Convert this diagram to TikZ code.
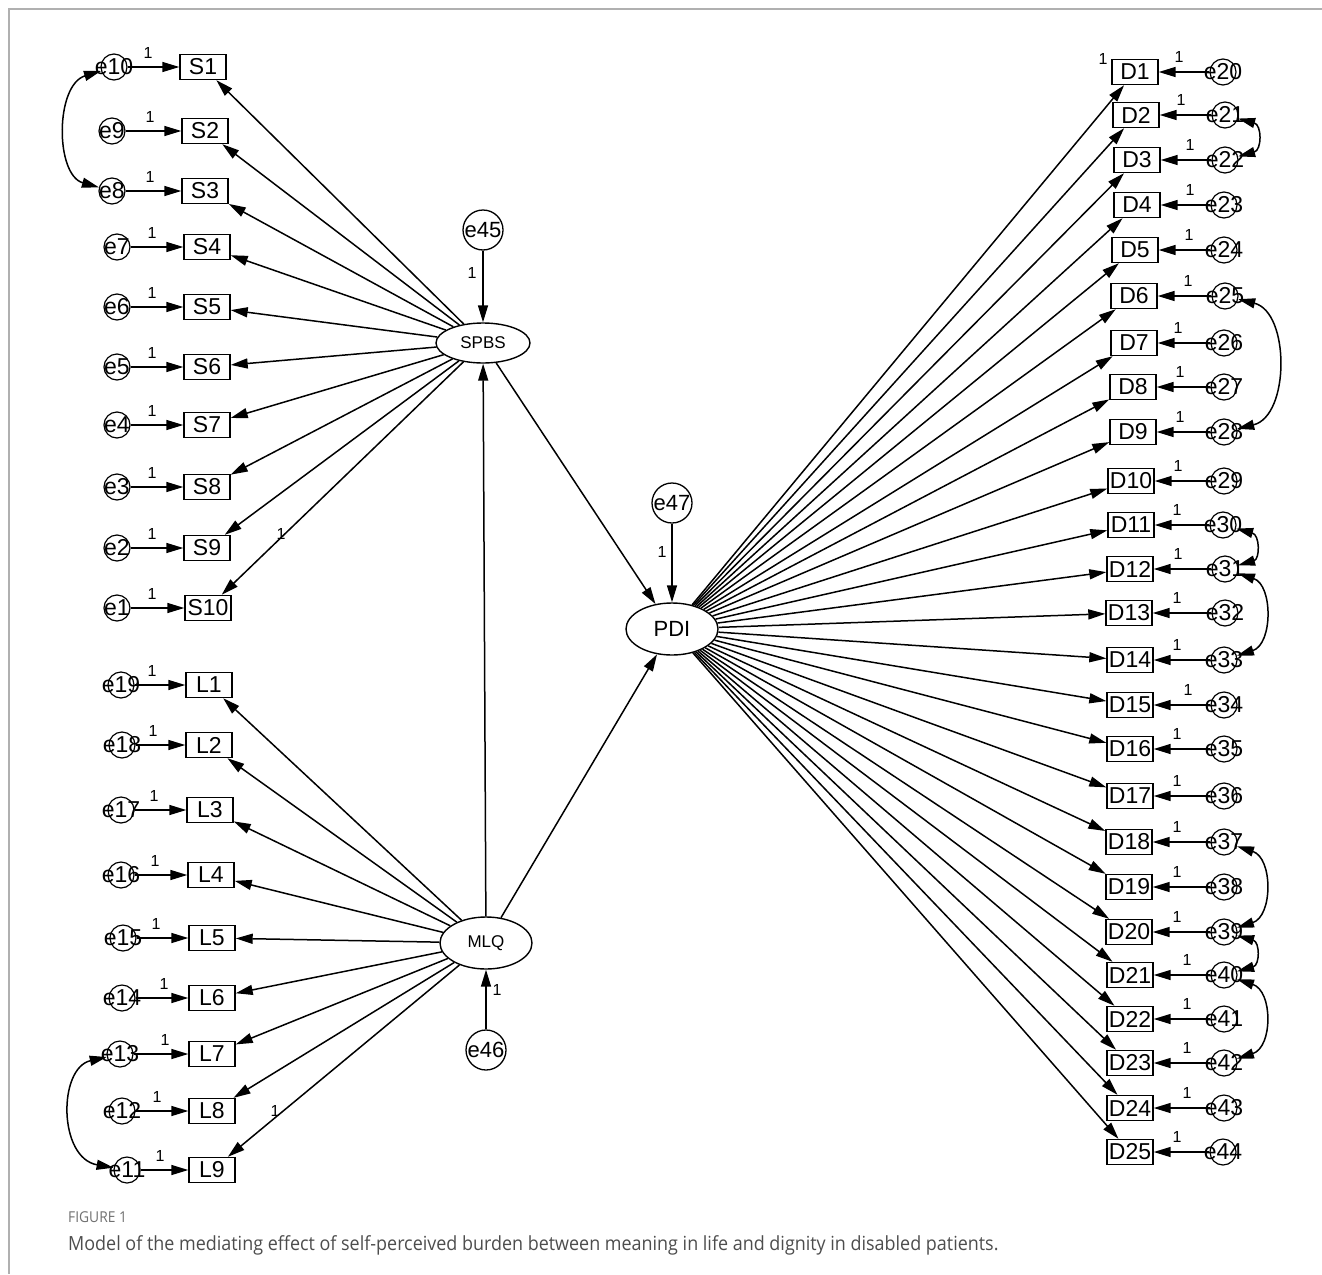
\documentclass[tikz,border=0pt]{standalone}
\usepackage{fontspec}
\setmainfont{Liberation Sans}
\newfontfamily\capfont[FakeStretch=0.92]{Open Sans}
\usetikzlibrary{arrows.meta,shapes.geometric}
\definecolor{capgray}{HTML}{4D4D4D}
\definecolor{figgray}{HTML}{707070}
\definecolor{framegray}{HTML}{B0B0B0}
\begin{document}
\begin{tikzpicture}[x=1pt,y=-1pt,
  obs/.style={draw,line width=1.4pt,minimum width=46pt,minimum height=25pt,inner sep=1pt,font=\fontsize{23}{23}\selectfont},
  err/.style={draw,circle,line width=1.2pt,minimum size=26pt,inner sep=0pt,font=\fontsize{23}{23}\selectfont},
  errbig/.style={draw,circle,line width=1.3pt,minimum size=40pt,inner sep=0pt,font=\fontsize{22}{22}\selectfont},
  lat/.style={draw,ellipse,line width=1.4pt,inner sep=0pt},
  arr/.style={line width=1.5pt,-{Triangle[length=17pt,width=10pt]}},
  cov/.style={line width=1.5pt,{Triangle[length=17pt,width=10pt]}-{Triangle[length=17pt,width=10pt]}},
  one/.style={font=\fontsize{16}{16}\selectfont,inner sep=0pt}]
\useasboundingbox (0,0) rectangle (1322,1274);
\draw[framegray,line width=1.2pt] (1322,9) -- (9,9) -- (9,1274);

% latent variables
\node[lat,minimum width=94pt,minimum height=40pt,font=\fontsize{17}{17}\selectfont] (SPBS) at (483,343) {SPBS};
\node[lat,minimum width=92pt,minimum height=52pt,font=\fontsize{17}{17}\selectfont] (MLQ) at (486,943) {MLQ};
\node[lat,minimum width=92pt,minimum height=52pt,font=\fontsize{22}{22}\selectfont] (PDI) at (672,629) {PDI};
\node[errbig] (e45) at (483,230) {e45};
\node[errbig] (e46) at (486,1050) {e46};
\node[errbig] (e47) at (672,503) {e47};
\draw[arr] (e45) -- (SPBS);
\draw[arr] (e46) -- (MLQ);
\draw[arr] (e47) -- (PDI);
\node[one] (o45) at (472,273) {1};
\node[one] (o46) at (497,990) {1};
\node[one] (o47) at (662,552) {1};
\draw[arr] (MLQ) -- (SPBS);
\draw[arr] (SPBS) -- (PDI);
\draw[arr] (MLQ) -- (PDI);

% S indicators
\foreach \i/\e/\x/\y/\ex/\lx in {1/10/203/67/114/148, 2/9/205/131/112/150, 3/8/205/191/112/150,
  4/7/207/247/117/152, 5/6/207/307/117/152, 6/5/207/367/117/152, 7/4/207/425/117/152,
  8/3/207/487/117/152, 9/2/207/548/117/152, 10/1/208/608/117/152}{
  \node[obs] (S\i) at (\x,\y) {S\i};
  \node[err] (e\e) at (\ex,\y) {\makebox[0pt]{e\e}};
  \draw[arr] (e\e) -- (S\i);
  \node[one] (oS\i) at (\lx,\y-14) {1};
  \draw[arr] (SPBS) -- (S\i);
}
\node[one] (oS) at (281,534) {1};

% L indicators
\foreach \i/\e/\x/\y/\ex/\lx in {1/19/209/685/121/152, 2/18/209/745/122/153, 3/17/210/810/121/154,
  4/16/211/875/121/155, 5/15/212/938/123/156, 6/14/212/998/122/164, 7/13/212/1054/120/165,
  8/12/212/1111/122/157, 9/11/212/1170/127/160}{
  \node[obs] (L\i) at (\x,\y) {L\i};
  \node[err] (e\e) at (\ex,\y) {\makebox[0pt]{e\e}};
  \draw[arr] (e\e) -- (L\i);
  \node[one] (oL\i) at (\lx,\y-14) {1};
  \draw[arr] (MLQ) -- (L\i);
}
\node[one] (oL) at (275,1111) {1};

% D indicators
\foreach \i/\e/\x/\y/\ex/\lx in {1/20/1135/72/1223/1179, 2/21/1136/115/1225/1181, 3/22/1137/160/1225/1190,
  4/23/1137/205/1224/1190, 5/24/1135/250/1224/1189, 6/25/1134/296/1225/1188, 7/26/1134/343/1224/1178,
  8/27/1133/387/1224/1180, 9/28/1133/432/1224/1180, 10/29/1131/481/1224/1178, 11/30/1131/525/1223/1177,
  12/31/1130/569/1225/1178, 13/32/1129/613/1225/1177, 14/33/1130/660/1224/1177, 15/34/1130/705/1224/1188,
  16/35/1130/749/1224/1177, 17/36/1130/796/1224/1177, 18/37/1129/842/1224/1177, 19/38/1129/887/1224/1177,
  20/39/1129/932/1224/1177, 21/40/1130/975/1224/1187, 22/41/1130/1019/1224/1187, 23/42/1130/1063/1224/1187,
  24/43/1130/1108/1224/1187, 25/44/1130/1152/1223/1177}{
  \node[obs] (D\i) at (\x,\y) {D\i};
  \node[err] (e\e) at (\ex,\y) {\makebox[0pt]{e\e}};
  \draw[arr] (e\e) -- (D\i);
  \node[one] (oD\i) at (\lx,\y-15) {1};
  \draw[arr] (PDI) -- (D\i);
}
\node[one] (oD) at (1103,59) {1};

% covariances
\draw[cov] (e10) .. controls (55,85) and (55,175) .. (e8);
\draw[cov] (e13) .. controls (58,1068) and (58,1158) .. (e11);
\draw[cov] (e21) .. controls (1262,125) and (1262,150) .. (e22);
\draw[cov] (e25) .. controls (1290,312) and (1290,416) .. (e28);
\draw[cov] (e30) .. controls (1260,535) and (1260,559) .. (e31);
\draw[cov] (e31) .. controls (1273,585) and (1273,644) .. (e33);
\draw[cov] (e37) .. controls (1273,858) and (1273,916) .. (e39);
\draw[cov] (e39) .. controls (1260,942) and (1260,965) .. (e40);
\draw[cov] (e40) .. controls (1273,991) and (1273,1047) .. (e42);

% caption
\node[anchor=base west,inner sep=0pt,text=figgray,font=\capfont\fontsize{15}{15}\selectfont] (fig) at (68,1222) {FIGURE 1};
\node[anchor=base west,inner sep=0pt,text=capgray,font=\capfont\fontsize{19.5}{20}\selectfont] (cap) at (68,1250) {Model of the mediating effect of self-perceived burden between meaning in life and dignity in disabled patients.};
\end{tikzpicture}
\end{document}
